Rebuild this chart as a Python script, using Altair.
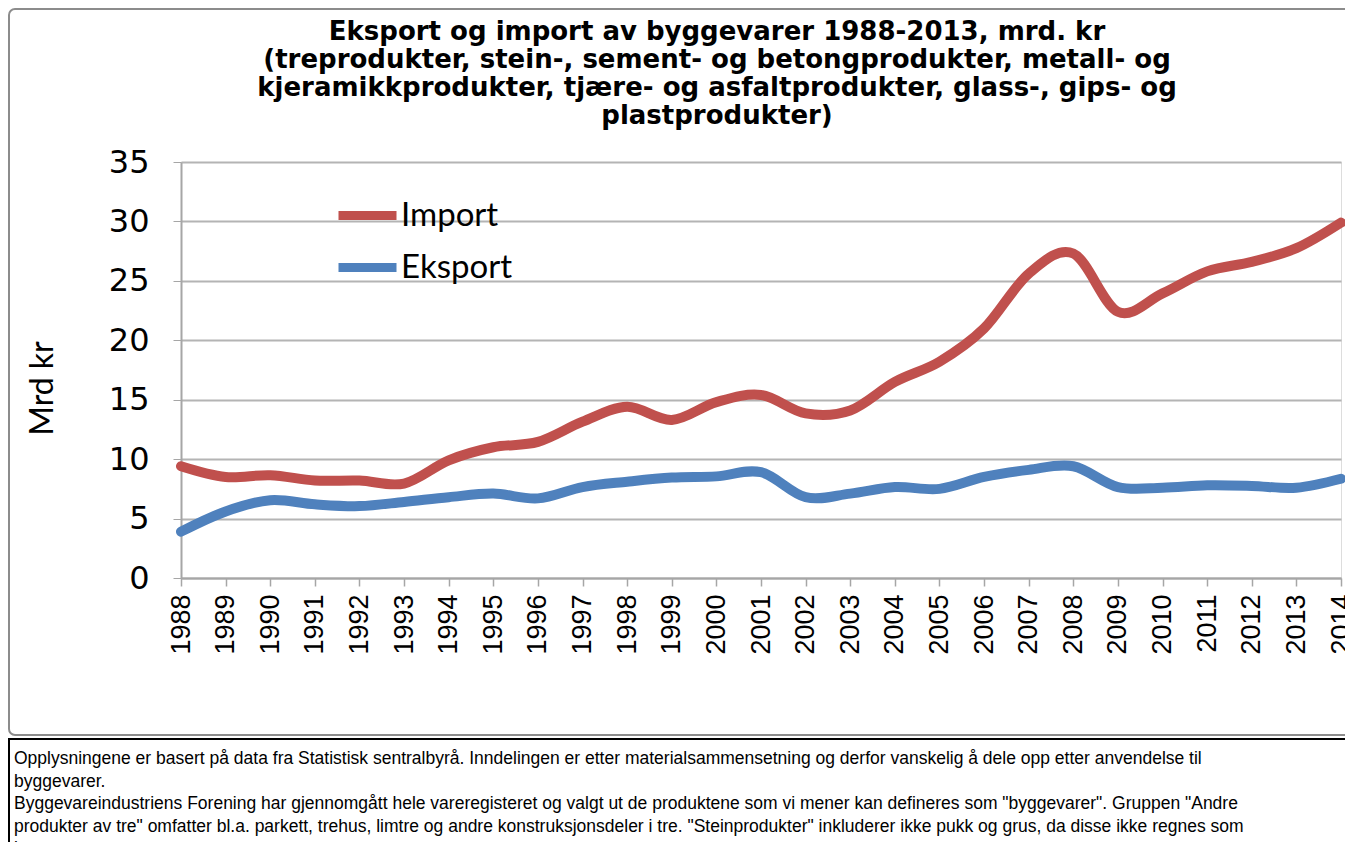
import altair as alt
import pandas as pd

years = [str(y) for y in range(1988, 2015)]
import_vals = [9.4, 8.5, 8.65, 8.2, 8.2, 7.95, 9.9, 11.0, 11.45, 13.15, 14.4, 13.3,
               14.8, 15.4, 13.85, 14.1, 16.5, 18.2, 21.0, 25.6, 27.3, 22.4, 23.95,
               25.8, 26.6, 27.75, 29.9]
eksport_vals = [3.9, 5.6, 6.55, 6.2, 6.05, 6.4, 6.8, 7.1, 6.7, 7.65, 8.1, 8.45,
                8.55, 8.9, 6.8, 7.1, 7.65, 7.5, 8.5, 9.1, 9.4, 7.65, 7.6, 7.8,
                7.75, 7.6, 8.35]
series_names = ["Import", "Eksport"]
series_colors = ["#C0504D", "#4F81BD"]
y_ticks = [0, 5, 10, 15, 20, 25, 30, 35]

title_lines = [
    "Eksport og import av byggevarer 1988-2013, mrd. kr",
    "(treprodukter, stein-, sement- og betongprodukter, metall- og",
    "kjeramikkprodukter, tjære- og asfaltprodukter, glass-, gips- og",
    "plastprodukter)",
]
note_lines = [
    "Opplysningene er basert på data fra Statistisk sentralbyrå. Inndelingen er etter materialsammensetning og derfor vanskelig å dele opp etter anvendelse til",
    "byggevarer.",
    "Byggevareindustriens Forening har gjennomgått hele vareregisteret og valgt ut de produktene som vi mener kan defineres som \"byggevarer\". Gruppen \"Andre",
    "produkter av tre\" omfatter bl.a. parkett, trehus, limtre og andre konstruksjonsdeler i tre. \"Steinprodukter\" inkluderer ikke pukk og grus, da disse ikke regnes som",
    "byggevarer.",
]

W, H = 1160, 416

df = pd.DataFrame({
    "Year": years * 2,
    "Serie": ["Import"] * len(years) + ["Eksport"] * len(years),
    "Verdi": import_vals + eksport_vals,
})
one = pd.DataFrame({"k": [0]})

lines = alt.Chart(df).mark_line(
    interpolate="cardinal", strokeWidth=10, strokeCap="round", strokeJoin="round"
).encode(
    x=alt.X("Year:O", title=None,
            scale=alt.Scale(type="point", padding=0),
            axis=alt.Axis(labelAngle=270, labelFont="Liberation Sans", labelFontSize=27,
                          labelColor="#000", tickSize=8, labelPadding=8,
                          domainColor="#a6a6a6", tickColor="#a6a6a6", domainWidth=2,
                          tickWidth=1.5, grid=False)),
    y=alt.Y("Verdi:Q", title="Mrd kr",
            scale=alt.Scale(domain=[0, 35], nice=False),
            axis=alt.Axis(values=y_ticks, labelFont="DejaVu Sans", labelFontSize=32,
                          labelColor="#000", tickSize=8, labelPadding=24,
                          domainColor="#a6a6a6", tickColor="#a6a6a6", domainWidth=2,
                          gridColor="#b4b4b4", gridWidth=2,
                          titleFont="Lato", titleFontSize=32, titleFontWeight="normal",
                          titleColor="#000", titleX=-139, titleY=226, titleAngle=270,
                          titleAlign="center", titleBaseline="middle")),
    color=alt.Color("Serie:N", sort=series_names,
                    scale=alt.Scale(domain=series_names, range=series_colors),
                    legend=alt.Legend(title=None, orient="none", legendX=153, legendY=20,
                                      symbolType="stroke", symbolStrokeWidth=9,
                                      symbolSize=3364, labelFont="Lato", labelFontSize=33,
                                      labelColor="#000", labelOffset=0, rowPadding=-16)),
    order=alt.Order("Serie:N"),
)

outer = alt.Chart(one).mark_rect(
    fill="white", fillOpacity=0, stroke="#8c8c8c", strokeWidth=2, cornerRadius=6
).encode(x=alt.value(-172), x2=alt.value(1170), y=alt.value(-153), y2=alt.value(573))

title = alt.Chart(one).mark_text(
    align="center", baseline="alphabetic", font="DejaVu Sans", fontSize=26,
    fontWeight="bold", lineHeight=28, color="#000"
).encode(x=alt.value(536), y=alt.value(-122), text=alt.value(title_lines))

notebox = alt.Chart(one).mark_rect(
    fill="white", fillOpacity=0, stroke="#000", strokeWidth=2
).encode(x=alt.value(-172), x2=alt.value(1170), y=alt.value(577), y2=alt.value(720))

notes = alt.Chart(one).mark_text(
    align="left", baseline="alphabetic", font="Liberation Sans", fontSize=17.5,
    lineHeight=22.5, color="#000"
).encode(x=alt.value(-167), y=alt.value(602), text=alt.value(note_lines))

chart = alt.layer(outer, title, notebox, notes, lines).properties(
    width=W, height=H,
    autosize=alt.AutoSizeParams(type="none"),
    padding={"left": 173, "top": 154, "right": 4, "bottom": 264},
).configure_view(stroke=None).configure(background="white")

chart.save("out.html", embed_options={"renderer": "svg", "actions": False})
